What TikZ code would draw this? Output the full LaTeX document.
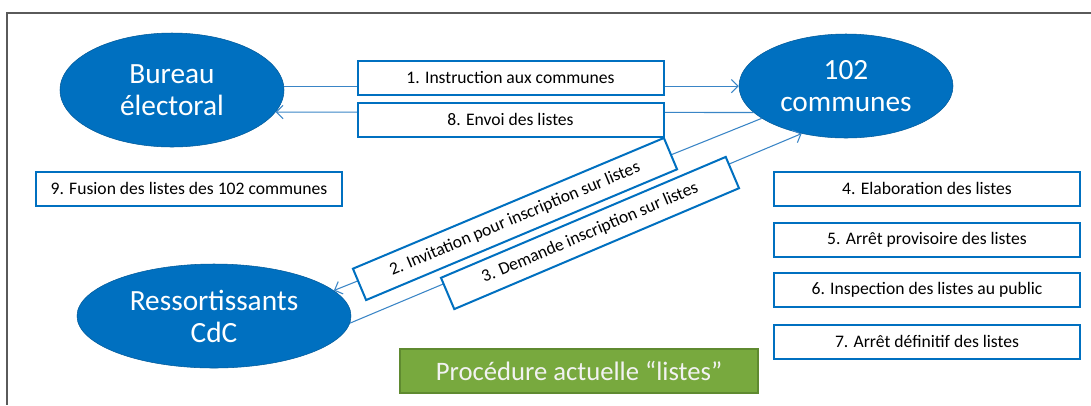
\documentclass[tikz,border=0pt]{standalone}
\usepackage{fontspec}
\setmainfont{Carlito}
\usetikzlibrary{positioning, shapes.geometric, arrows.meta}

\definecolor{ellblue}{HTML}{0070C0}
\definecolor{lineblue}{HTML}{3A85C6}
\definecolor{procgreen}{HTML}{78A93E}
\definecolor{procedge}{HTML}{5F8A30}
\definecolor{framegray}{HTML}{5A5A5A}

\begin{document}
\begin{tikzpicture}[x=0.75pt, y=-0.75pt,
    acteur/.style={ellipse, fill=ellblue, draw=ellblue!80!black, text=white, align=center,
        inner sep=0pt, font=\fontsize{22}{24}\selectfont},
    etape/.style={draw=ellblue, line width=1.5pt, fill=white, inner sep=0pt,
        minimum width=229.5pt, minimum height=25.5pt, font=\fontsize{13.2}{15}\selectfont},
    fleche/.style={draw=lineblue, line width=0.8pt, -{Straight Barb[length=5pt, width=10pt]}}]
    \useasboundingbox (0,0) rectangle (1091,405);

    % Frame (cut on the right and at the bottom)
    \draw[framegray, line width=1.3pt] (1091,13) -- (7,13) -- (7,405);

    % The three actors
    \node[acteur, minimum width=168pt, minimum height=85.5pt] (bureau) at (172,90) {Bureau\\électoral};
    \node[acteur, minimum width=160.5pt, minimum height=78pt] (communes) at (846,86) {102\\communes};
    \node[acteur, minimum width=205.5pt, minimum height=78pt] (ressort) at (214,316) {Ressortissants\\CdC};

    % Exchanges between the actors
    \draw[fleche] (bureau.2) -- (bureau.2 -| communes.west);
    \draw[fleche] (communes.196) -- (bureau.-12);
    \draw[fleche] (communes.201) -- (ressort.12);
    \draw[fleche] (ressort.-3) -- (communes.227);

    % Labels of the exchanges
    \node[etape] (instr) at (510.5,77.5) {1. Instruction aux communes};
    \node[etape] (envoi) at (510.5,119.5) {8. Envoi des listes};
    \node[etape, rotate=22.8, minimum width=253pt] (invit) at (515,219) {2. Invitation pour inscription sur listes};
    \node[etape, rotate=23, minimum width=232pt] (demande) at (590,233) {3. Demande inscription sur listes};

    % Steps at the Bureau
    \node[etape] (fusion) at (189,188.5) {9. Fusion des listes des 102 communes};

    % Steps in the communes
    \node[etape] (elab) at (927,188.5) {4. Elaboration des listes};
    \node[etape] (prov) at (927,239.5) {5. Arrêt provisoire des listes};
    \node[etape] (insp) at (927,290) {6. Inspection des listes au public};
    \node[etape] (defin) at (927,341.5) {7. Arrêt définitif des listes};

    % Title
    \node[fill=procgreen, draw=procedge, line width=1pt, text=white!95!black,
        minimum width=268.5pt, minimum height=33pt, font=\fontsize{20}{23}\selectfont]
        (titre) at (579,371) {Procédure actuelle “listes”};
\end{tikzpicture}
\end{document}
